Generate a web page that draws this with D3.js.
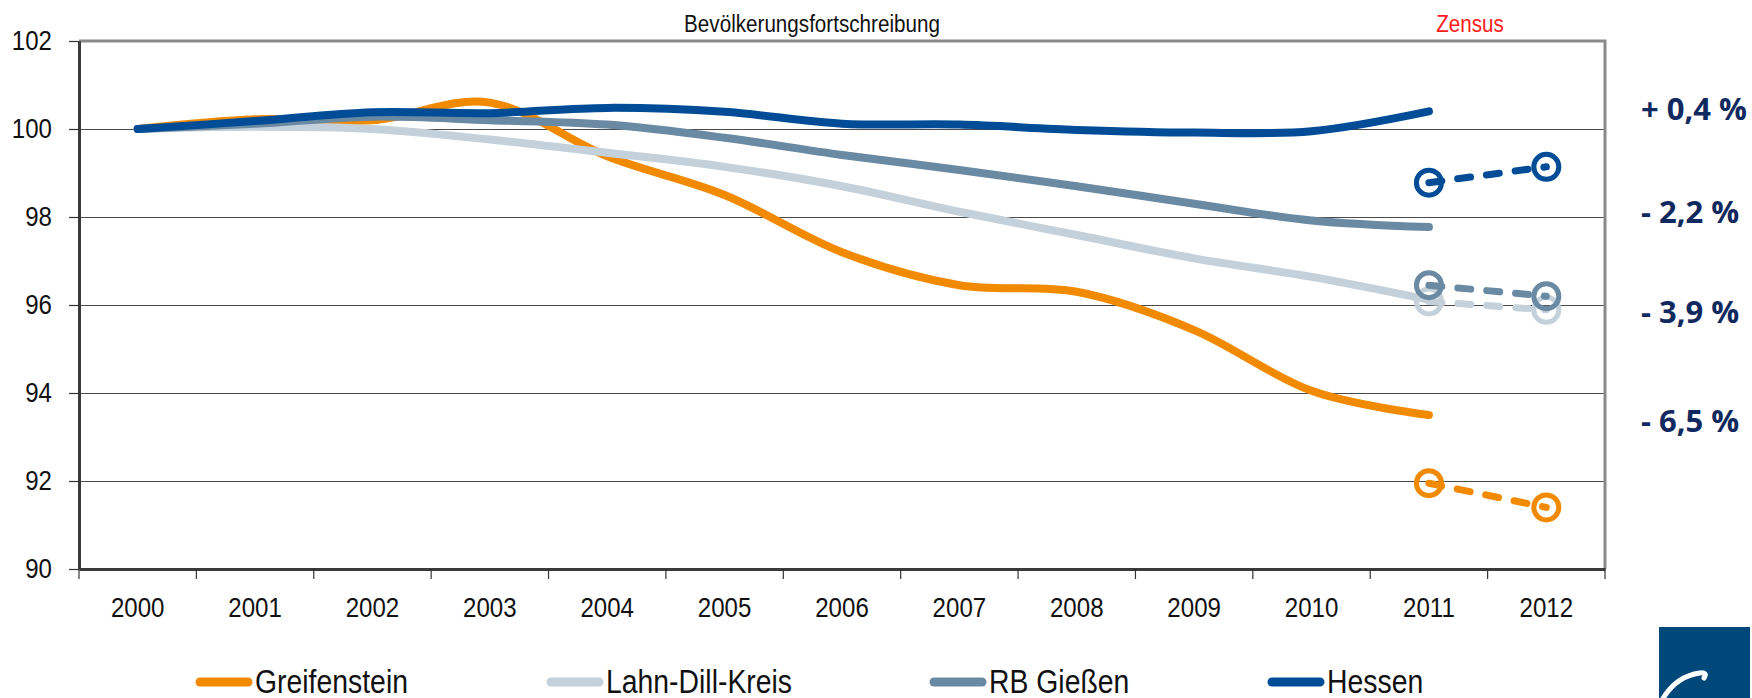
<!DOCTYPE html>
<html>
<head>
<meta charset="utf-8">
<script src="https://cdn.jsdelivr.net/npm/d3@7"></script>
<style>
  html, body { margin: 0; padding: 0; background: #fff; }
  svg { display: block; font-family: "Liberation Sans", Arial, sans-serif; }
</style>
</head>
<body>
<div id="chart"></div>
<script>
// data (index 2000 = 100)
var years = ["2000", "2001", "2002", "2003", "2004", "2005", "2006", "2007", "2008", "2009", "2010", "2011", "2012"];
var fortYears = years.slice(0, 12);
var zensusYears = ["2011", "2012"];
var yTicks = [90, 92, 94, 96, 98, 100, 102];

var greifenstein = [100, 100.22, 100.2, 100.6, 99.38, 98.5, 97.2, 96.45, 96.3, 95.43, 94.05, 93.5];
var lahnDill     = [100, 100.05, 100.0, 99.76, 99.46, 99.14, 98.7, 98.12, 97.59, 97.06, 96.64, 96.12];
var rbGiessen    = [100, 100.12, 100.28, 100.2, 100.1, 99.8, 99.41, 99.07, 98.7, 98.3, 97.92, 97.77];
var hessen       = [100, 100.18, 100.38, 100.36, 100.48, 100.39, 100.12, 100.1, 99.98, 99.92, 99.95, 100.4];

var greifZensus = [91.95, 91.4];
var lahnZensus  = [96.08, 95.89];
var rbZensus    = [96.45, 96.2];
var hessZensus  = [98.78, 99.14];

var seriesNames = ["Greifenstein", "Lahn-Dill-Kreis", "RB Gießen", "Hessen"];
var changeLabels = ["+ 0,4 %", "- 2,2 %", "- 3,9 %", "- 6,5 %"];

var colors = ["#f28a00", "#c4d1db", "#6a89a2", "#004c97"];

var W = 1752, H = 698;
var plotLeft = 79, plotRight = 1605, plotTop = 41, plotBottom = 569;
var sx = 0.86; // the source text is a bit condensed

var svg = d3.select("#chart").append("svg")
    .attr("width", W)
    .attr("height", H);

var x = d3.scaleBand().domain(years).range([plotLeft, plotRight]).padding(0);
var y = d3.scaleLinear().domain([90, 102]).range([plotBottom, plotTop]);
var cx = function(d) { return x(d) + x.bandwidth() / 2; };

// gridlines
svg.append("g")
    .attr("transform", "translate(" + plotLeft + ",0)")
    .call(d3.axisLeft(y).tickValues(yTicks.slice(1, -1)).tickSize(-(plotRight - plotLeft)).tickFormat(""))
    .call(function(g) { g.select(".domain").remove(); })
    .selectAll("line").attr("stroke", "#4a4a4a").attr("stroke-width", 1.2);

// frame: top / right gray
svg.append("path")
    .attr("d", "M" + plotLeft + "," + plotTop + "H" + plotRight + "V" + plotBottom)
    .attr("fill", "none")
    .attr("stroke", "#8a8a8a")
    .attr("stroke-width", 3);

// y axis
var yAxis = svg.append("g")
    .attr("transform", "translate(" + plotLeft + ",0)")
    .call(d3.axisLeft(y).tickValues(yTicks).tickSize(10).tickSizeOuter(0));
yAxis.select(".domain").attr("stroke", "#3a3a3a").attr("stroke-width", 3);
yAxis.selectAll(".tick line").attr("stroke", "#333").attr("stroke-width", 1.2);
yAxis.selectAll("text")
    .attr("x", -27 / sx)
    .attr("transform", "scale(" + sx + ",1)")
    .attr("font-size", 28)
    .attr("font-family", "Liberation Sans, Arial, sans-serif")
    .attr("fill", "#111");

// x axis: labels centred in bands, ticks on band edges
var xAxis = svg.append("g")
    .attr("transform", "translate(0," + plotBottom + ")")
    .call(d3.axisBottom(x).tickSize(0).tickSizeOuter(0));
xAxis.select(".domain").attr("stroke", "#3a3a3a").attr("stroke-width", 3);
xAxis.selectAll("text")
    .attr("y", 48)
    .attr("dy", 0)
    .attr("transform", "scale(" + sx + ",1)")
    .attr("font-size", 28)
    .attr("font-family", "Liberation Sans, Arial, sans-serif")
    .attr("fill", "#111");
xAxis.selectAll(".edge")
    .data(years.concat(["end"]))
    .enter().append("line")
    .attr("x1", function(d, i) { return plotLeft + i * x.step(); })
    .attr("x2", function(d, i) { return plotLeft + i * x.step(); })
    .attr("y1", 0)
    .attr("y2", 10)
    .attr("stroke", "#333")
    .attr("stroke-width", 1.2);

// smooth lines (Bevölkerungsfortschreibung)
var line = d3.line()
    .x(function(d) { return cx(d[0]); })
    .y(function(d) { return y(d[1]); })
    .curve(d3.curveCatmullRom.alpha(0));

var mainSeries = [greifenstein, lahnDill, rbGiessen, hessen];
mainSeries.forEach(function(vals, i) {
    svg.append("path")
        .datum(fortYears.map(function(yr, j) { return [yr, vals[j]]; }))
        .attr("fill", "none")
        .attr("stroke", colors[i])
        .attr("stroke-width", 8)
        .attr("stroke-linecap", "round")
        .attr("stroke-linejoin", "round")
        .attr("d", line);
});

// Zensus points, dashed
var zensusSeries = [greifZensus, lahnZensus, rbZensus, hessZensus];
var straight = d3.line()
    .x(function(d) { return cx(d[0]); })
    .y(function(d) { return y(d[1]); });

zensusSeries.forEach(function(vals, i) {
    var pts = zensusYears.map(function(yr, j) { return [yr, vals[j]]; });
    var g = svg.append("g");
    g.selectAll("circle")
        .data(pts)
        .enter().append("circle")
        .attr("cx", function(d) { return cx(d[0]); })
        .attr("cy", function(d) { return y(d[1]); })
        .attr("r", 12.5)
        .attr("fill", "none")
        .attr("stroke", colors[i])
        .attr("stroke-width", 5);
    g.append("path")
        .datum(pts)
        .attr("fill", "none")
        .attr("stroke", colors[i])
        .attr("stroke-width", 7)
        .attr("stroke-linecap", "round")
        .attr("stroke-dasharray", "13,16")
        .attr("d", straight);
});

// headings above the plot
svg.append("text")
    .attr("transform", "translate(812,32) scale(" + sx + ",1)")
    .attr("text-anchor", "middle")
    .attr("font-size", 24)
    .attr("fill", "#111")
    .text("Bevölkerungsfortschreibung");

svg.append("text")
    .attr("transform", "translate(1470,32) scale(" + sx + ",1)")
    .attr("text-anchor", "middle")
    .attr("font-size", 24)
    .attr("fill", "#ff1a1a")
    .text("Zensus");

// change labels on the right
var changeY = [120, 223, 323, 432];
svg.selectAll(".change")
    .data(changeLabels)
    .enter().append("text")
    .attr("class", "change")
    .attr("x", 1641)
    .attr("y", function(d, i) { return changeY[i]; })
    .attr("font-family", "'Open Sans', 'DejaVu Sans', sans-serif")
    .attr("font-weight", "bold")
    .attr("font-size", 31)
    .attr("fill", "#10295e")
    .text(function(d) { return d; });

// legend
var legX = [200, 551, 934, 1272];
var legend = svg.selectAll(".leg")
    .data(seriesNames)
    .enter().append("g")
    .attr("class", "leg")
    .attr("transform", function(d, i) { return "translate(" + legX[i] + ",682)"; });
legend.append("line")
    .attr("x1", 0).attr("x2", 48)
    .attr("stroke", function(d, i) { return colors[i]; })
    .attr("stroke-width", 9)
    .attr("stroke-linecap", "round");
legend.append("text")
    .attr("transform", "translate(55,11) scale(" + sx + ",1)")
    .attr("font-size", 33)
    .attr("fill", "#111")
    .text(function(d) { return d; });

// logo corner (cut off in the source)
svg.append("rect")
    .attr("x", 1659).attr("y", 627)
    .attr("width", 91).attr("height", 71)
    .attr("fill", "#00477a");
svg.append("path")
    .attr("d", "M1662,700 Q1676,676 1700,673 Q1708,672 1704,678")
    .attr("fill", "none")
    .attr("stroke", "#fff")
    .attr("stroke-width", 5)
    .attr("stroke-linecap", "round");
</script>
</body>
</html>
